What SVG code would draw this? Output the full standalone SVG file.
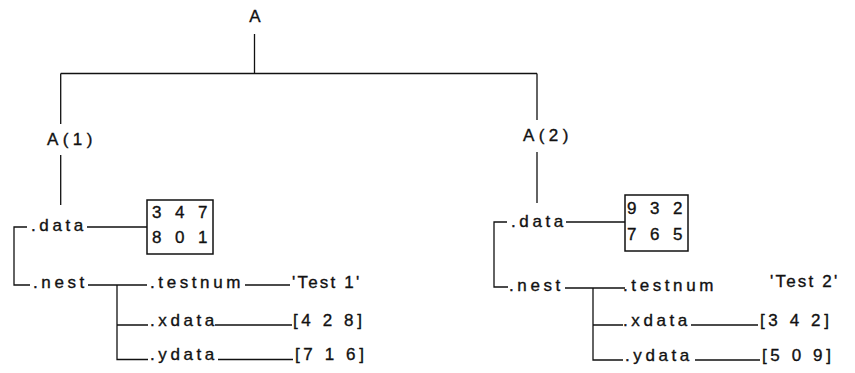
<svg xmlns="http://www.w3.org/2000/svg" width="855" height="373" viewBox="0 0 855 373">
<style>
.t{font-family:"Liberation Sans",Arial,sans-serif;font-size:17px;letter-spacing:3.6px;fill:#111;stroke:#111;stroke-width:0.35}
.m{letter-spacing:4.4px}
.q{letter-spacing:2.2px}
.c{fill:none;stroke:#111;stroke-width:1.3}
.box{fill:#fff;stroke:#111;stroke-width:1.5}
</style>
<rect width="855" height="373" fill="#fff"/>
<g id="connectors" class="c">
<path d="M254.5,34 V73.5 M60.7,73.5 H537 M60.7,73.5 V124 M537,73.5 V120"/>
<path d="M60.7,155 V205 M537,152 V203"/>
<path d="M27,227 H14 V285 H30 M87,227 H147 M88,285 H147 M117,285 V359.5 H148 M117,325 H148 M245,285 H290 M215,325 H292 M218,359.5 H293"/>
<path d="M507,222 H494 V287 H508 M566,222 H625 M565,288 H625 M593,288 V360 H623 M593,325 H623 M691,325 H758 M695,360 H760"/>
</g>
<g id="A"><text class="t" x="249.3" y="22">A</text></g>
<g id="A1"><text class="t m" x="47" y="145">A(1)</text></g>
<g id="A2"><text class="t m" x="523" y="141">A(2)</text></g>
<g id="A1-data"><text class="t" x="31" y="231">.data</text></g>
<g id="A1-data-val"><rect class="box" x="147" y="200" width="66" height="54"/><text class="t m" x="152" y="218">3 4 7</text><text class="t m" x="152" y="243">8 0 1</text></g>
<g id="A1-nest"><text class="t" x="33" y="288">.nest</text></g>
<g id="A1-testnum"><text class="t" x="150" y="288">.testnum</text></g>
<g id="A1-testnum-val"><text class="t q" x="292" y="288">'Test 1'</text></g>
<g id="A1-xdata"><text class="t" x="150" y="326">.xdata</text></g>
<g id="A1-xdata-val"><text class="t" x="293" y="326">[4 2 8]</text></g>
<g id="A1-ydata"><text class="t" x="150" y="360">.ydata</text></g>
<g id="A1-ydata-val"><text class="t" x="295" y="360">[7 1 6]</text></g>
<g id="A2-data"><text class="t" x="511" y="226.5">.data</text></g>
<g id="A2-data-val"><rect class="box" x="625" y="195" width="63" height="56"/><text class="t m" x="627" y="214">9 3 2</text><text class="t m" x="627" y="240">7 6 5</text></g>
<g id="A2-nest"><text class="t" x="509" y="291">.nest</text></g>
<g id="A2-testnum"><text class="t" x="623" y="291">.testnum</text></g>
<g id="A2-testnum-val"><text class="t q" x="770" y="287">'Test 2'</text></g>
<g id="A2-xdata"><text class="t" x="623" y="326">.xdata</text></g>
<g id="A2-xdata-val"><text class="t" x="760" y="326">[3 4 2]</text></g>
<g id="A2-ydata"><text class="t" x="625" y="361">.ydata</text></g>
<g id="A2-ydata-val"><text class="t" x="762" y="361">[5 0 9]</text></g>
</svg>
